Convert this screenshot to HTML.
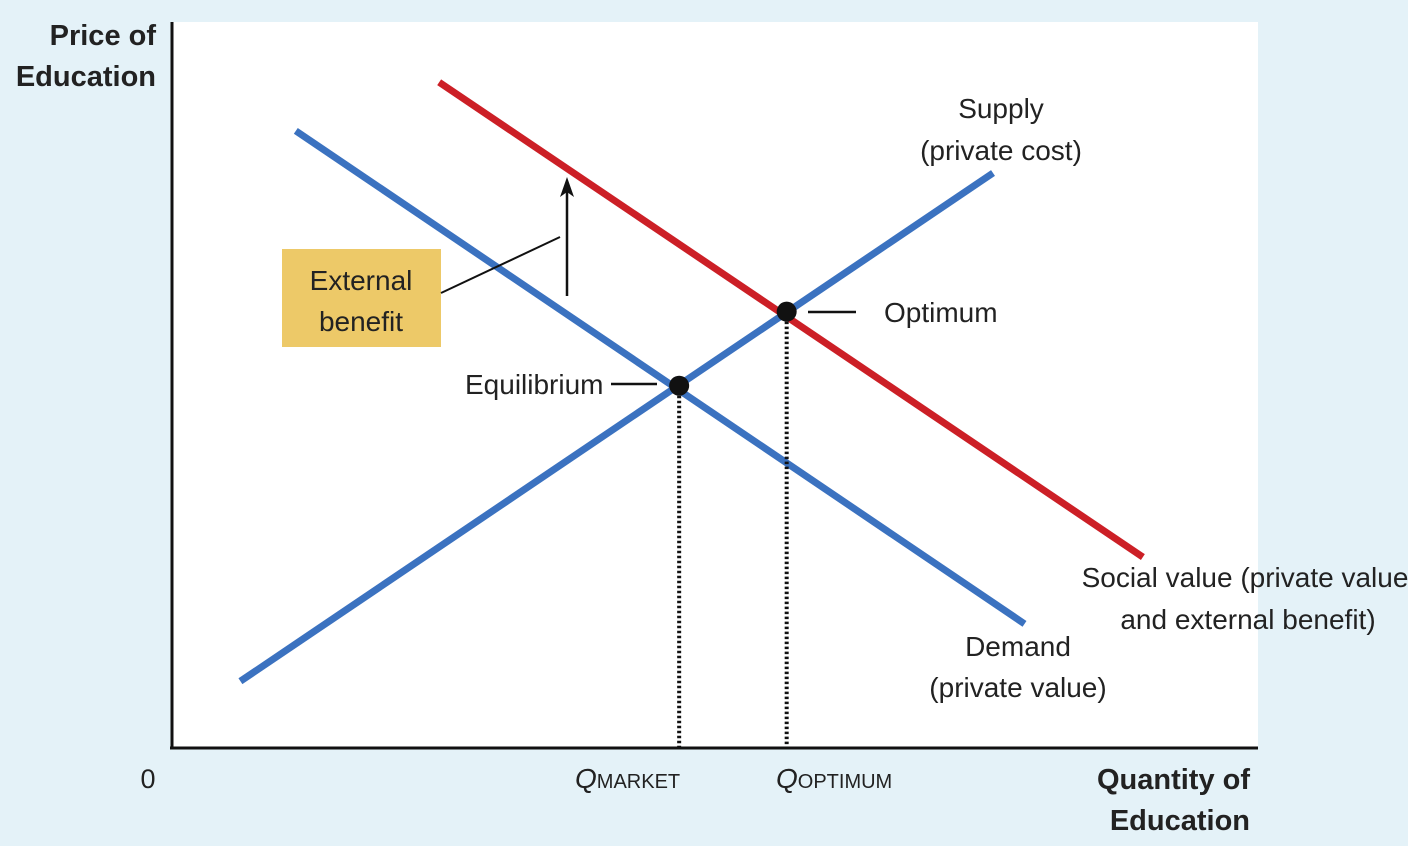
<!DOCTYPE html>
<html><head><meta charset="utf-8"><style>
html,body{margin:0;padding:0;background:#e4f2f8;}
svg{display:block;font-family:"Liberation Sans Narrow","Liberation Sans",sans-serif;}
</style></head><body>
<svg id="chart" width="1408" height="846" viewBox="0 0 1408 846" xmlns="http://www.w3.org/2000/svg">
<rect x="0" y="0" width="1408" height="846" fill="#e4f2f8"/>
<rect x="172" y="22" width="1086" height="726" fill="#ffffff"/>
<g id="marks"></g>
<line x1="172" y1="22" x2="172" y2="748" stroke="#111" stroke-width="3"/>
<line x1="170" y1="748" x2="1258" y2="748" stroke="#111" stroke-width="3"/>
<text font-weight="bold" font-size="29" fill="#222" text-anchor="end"><tspan x="156" y="45">Price of</tspan><tspan x="156" y="86">Education</tspan></text>
<text font-weight="bold" font-size="29" fill="#222" text-anchor="end"><tspan x="1250" y="789">Quantity of</tspan><tspan x="1250" y="830">Education</tspan></text>
<text x="148" y="788" font-size="27" fill="#222" text-anchor="middle">0</text>
<text x="575" y="788" font-size="28" fill="#222"><tspan font-style="italic">Q</tspan><tspan font-size="20">MARKET</tspan></text>
<text x="776" y="788" font-size="28" fill="#222"><tspan font-style="italic">Q</tspan><tspan font-size="20">OPTIMUM</tspan></text>
<text font-size="28" fill="#222" text-anchor="middle"><tspan x="1001" y="118">Supply</tspan><tspan x="1001" y="160">(private cost)</tspan></text>
<text font-size="28" fill="#222" text-anchor="middle"><tspan x="1018" y="656">Demand</tspan><tspan x="1018" y="697">(private value)</tspan></text>
<text font-size="28" fill="#222" text-anchor="middle"><tspan x="1245" y="587">Social value (private value</tspan><tspan x="1248" y="629">and external benefit)</tspan></text>
<text x="884" y="322" font-size="28" fill="#222">Optimum</text>
<text x="465" y="394" font-size="28" fill="#222">Equilibrium</text>
<line x1="808" y1="312" x2="856" y2="312" stroke="#111" stroke-width="2.5"/>
<line x1="611" y1="384" x2="657" y2="384" stroke="#111" stroke-width="2.5"/>
<rect x="282" y="249" width="159" height="98" fill="#edc968"/>
<text font-size="28" fill="#222" text-anchor="middle"><tspan x="361" y="290">External</tspan><tspan x="361" y="331">benefit</tspan></text>
<line x1="441" y1="293" x2="560" y2="237" stroke="#111" stroke-width="2"/>
<line x1="567" y1="296" x2="567" y2="190" stroke="#111" stroke-width="2.5"/>
<polygon points="567,177 560,197 567,192 574,197" fill="#111"/>
</svg>
<script>
// Quantity (0-100) and price (0-100) coordinates of curve endpoints
const curveNames = ["supply","demand","social-value"];
const curveQ1 = [6.3, 11.4, 24.6];
const curveP1 = [9.2, 85.0, 91.7];
const curveQ2 = [75.6, 78.5, 89.4];
const curveP2 = [79.2, 17.1, 26.3];
const curveColors = ["#3b72c0","#3b72c0","#cc1f26"];
const pointNames = ["equilibrium","optimum"];
const pointQ = [46.7, 56.6];
const pointP = [49.9, 60.1];

const X0=172, X1=1258, Y0=748, Y1=22;
function xs(q){return X0+(X1-X0)*q/100;}
function ys(p){return Y0-(Y0-Y1)*p/100;}
const NS="http://www.w3.org/2000/svg";
const g=document.getElementById('marks');
for(let i=0;i<curveNames.length;i++){
  const l=document.createElementNS(NS,'line');
  l.setAttribute('x1',xs(curveQ1[i]));l.setAttribute('y1',ys(curveP1[i]));
  l.setAttribute('x2',xs(curveQ2[i]));l.setAttribute('y2',ys(curveP2[i]));
  l.setAttribute('stroke',curveColors[i]);l.setAttribute('stroke-width','7');
  
  
  g.appendChild(l);
}
for(let i=0;i<pointNames.length;i++){
  const d=document.createElementNS(NS,'line');
  d.setAttribute('x1',xs(pointQ[i]));d.setAttribute('y1',ys(pointP[i]));
  d.setAttribute('x2',xs(pointQ[i]));d.setAttribute('y2',Y0);
  d.setAttribute('stroke','#111');d.setAttribute('stroke-width','4');d.setAttribute('stroke-dasharray','2.5 2.5');
  
  
  g.appendChild(d);
}
for(let i=0;i<pointNames.length;i++){
  const c=document.createElementNS(NS,'circle');
  c.setAttribute('cx',xs(pointQ[i]));c.setAttribute('cy',ys(pointP[i]));c.setAttribute('r','10');
  c.setAttribute('fill','#111');
  
  
  g.appendChild(c);
}
</script>
</body></html>
